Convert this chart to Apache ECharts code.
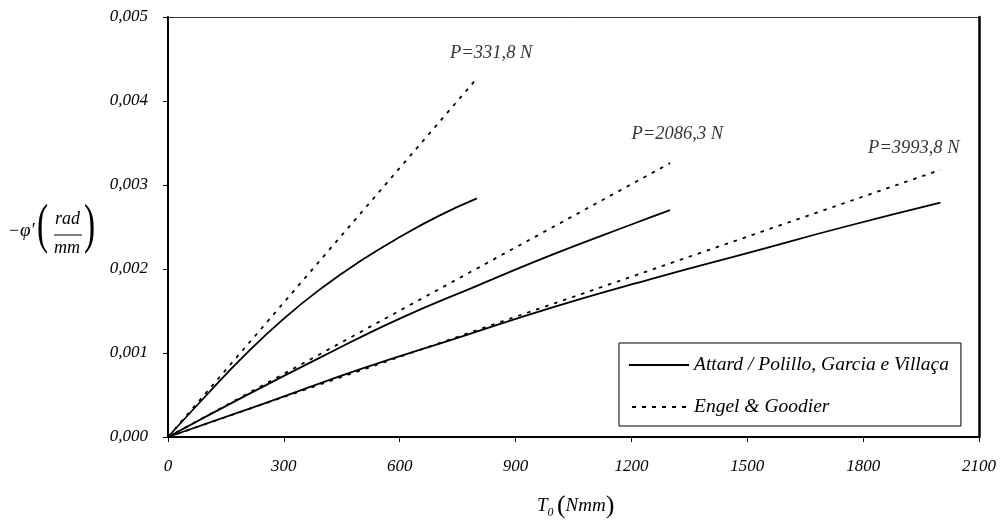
<!DOCTYPE html>
<html>
<head>
<meta charset="utf-8">
<script src="https://cdn.jsdelivr.net/npm/echarts@6/dist/echarts.min.js"></script>
<style>
  html, body { margin: 0; padding: 0; background: #fff; }
  #chart { width: 1001px; height: 526px; }
</style>
</head>
<body>
<div id="chart"></div>
<script>
// valores: T0 (Nmm) e -phi' (rad/mm)
const tAttard1 = [0, 100, 200, 300, 400, 500, 600, 700, 800]
const phiAttard1 = [0, 0.00050, 0.00098, 0.00141, 0.00178, 0.00210, 0.00238, 0.00263, 0.00284]
const tEngel1 = [0, 800]
const phiEngel1 = [0, 0.00427]

const tAttard2 = [0, 200, 400, 600, 800, 1000, 1200, 1300]
const phiAttard2 = [0, 0.00049, 0.00096, 0.00141, 0.00180, 0.00218, 0.00253, 0.00270]
const tEngel2 = [0, 1300]
const phiEngel2 = [0, 0.00326]

const tAttard3 = [0, 250, 500, 750, 1000, 1250, 1500, 1750, 2000]
const phiAttard3 = [0, 0.00040, 0.00081, 0.00118, 0.00155, 0.00188, 0.00219, 0.00250, 0.00279]
const tEngel3 = [0, 2000]
const phiEngel3 = [0, 0.00318]

// rótulos das cargas, posicionados no espaço dos dados
const loadLabels = ['P=331,8 N', 'P=2086,3 N', 'P=3993,8 N']
const loadLabelT = [837, 1319, 1931]
const loadLabelPhi = [0.00457, 0.00360, 0.00344]

const nameAttard = 'Attard / Polillo, Garcia e Villaça'
const nameEngel = 'Engel & Goodier'

const pairs = (xs, ys) => xs.map((x, i) => [x, ys[i]])
const fmtY = (v) => v.toFixed(3).replace('.', ',')
const fmtX = (v) => String(v)

const serif = '"Liberation Serif", "DejaVu Serif", serif'
const italicText = { fontFamily: serif, fontStyle: 'italic', color: '#000', fontSize: 17 }

// ícones da legenda: traço contínuo e tracejado
const iconSolid = 'path://M0,0h60v2h-60z'
const iconDashed = 'path://M0,0h4v2h-4zM10,0h4v2h-4zM20,0h4v2h-4zM30,0h4v2h-4zM40,0h4v2h-4zM50,0h4v2h-4z'

const solid = (data) => ({
    name: nameAttard,
    type: 'line',
    data: data,
    smooth: true,
    showSymbol: false,
    symbol: 'none',
    lineStyle: { color: '#000', width: 1.8, type: 'solid' },
    itemStyle: { color: '#000' }
})
const dotted = (data) => ({
    name: nameEngel,
    type: 'line',
    data: data,
    showSymbol: false,
    symbol: 'none',
    lineStyle: { color: '#000', width: 1.8, type: [3.5, 6] },
    itemStyle: { color: '#000' }
})

const chart = echarts.init(document.getElementById('chart'), null, { renderer: 'canvas' })

const option = {
    animation: false,
    backgroundColor: '#fff',
    grid: { left: 168, top: 17, right: 22, bottom: 89 },
    legend: {
        data: [
            { name: nameAttard, icon: iconSolid },
            { name: nameEngel, icon: iconDashed }
        ],
        orient: 'vertical',
        left: 619,
        top: 343,
        itemWidth: 60,
        itemHeight: 2,
        itemGap: 22,
        padding: [12, 12, 9, 10],
        borderColor: '#000',
        borderWidth: 1,
        backgroundColor: '#fff',
        itemStyle: { color: '#000' },
        textStyle: { ...italicText, fontSize: 19.5, lineHeight: 20 }
    },
    xAxis: [
        {
            type: 'value',
            min: 0,
            max: 2100,
            interval: 300,
            axisLine: { lineStyle: { color: '#000', width: 2 } },
            axisTick: { length: 5, lineStyle: { color: '#000', width: 1 } },
            axisLabel: { ...italicText, margin: 21, formatter: fmtX },
            splitLine: { show: false }
        },
        {
            type: 'value',
            position: 'top',
            min: 0,
            max: 2100,
            axisLine: { show: true, onZero: false, lineStyle: { color: '#333', width: 1 } },
            axisTick: { show: false },
            axisLabel: { show: false },
            splitLine: { show: false }
        }
    ],
    yAxis: [
        {
            type: 'value',
            min: 0,
            max: 0.005,
            interval: 0.001,
            axisLine: { show: true, lineStyle: { color: '#000', width: 2 } },
            axisTick: { show: true, length: 5, lineStyle: { color: '#000', width: 1 } },
            axisLabel: { ...italicText, margin: 20, formatter: fmtY },
            splitLine: { show: false }
        },
        {
            type: 'value',
            position: 'right',
            min: 0,
            max: 0.005,
            axisLine: { show: true, onZero: false, lineStyle: { color: '#000', width: 2.5 } },
            axisTick: { show: false },
            axisLabel: { show: false },
            splitLine: { show: false }
        }
    ],
    series: [
        solid(pairs(tAttard1, phiAttard1)),
        dotted(pairs(tEngel1, phiEngel1)),
        solid(pairs(tAttard2, phiAttard2)),
        dotted(pairs(tEngel2, phiEngel2)),
        solid(pairs(tAttard3, phiAttard3)),
        dotted(pairs(tEngel3, phiEngel3)),
        {
            name: 'cargas',
            type: 'scatter',
            symbolSize: 0,
            silent: true,
            data: loadLabels.map((txt, i) => ({ value: [loadLabelT[i], loadLabelPhi[i]], name: txt })),
            label: {
                show: true,
                position: 'inside',
                formatter: (p) => p.name,
                ...italicText,
                fontSize: 18.5
            }
        }
    ],
    graphic: [
        // título do eixo y: -phi'(rad/mm)
        { type: 'text', left: 9, top: 222, style: { text: '−', font: '18px ' + serif, fill: '#000' } },
        { type: 'text', left: 20, top: 221, style: { text: 'φ′', font: 'italic 19px ' + serif, fill: '#000' } },
        { type: 'text', x: 37, y: 201, scaleX: 0.62, style: { text: '(', font: '54px ' + serif, fill: '#000' } },
        { type: 'text', left: 55, top: 210, style: { text: 'rad', font: 'italic 18px ' + serif, fill: '#000' } },
        { type: 'line', shape: { x1: 54, y1: 235, x2: 82, y2: 235 }, style: { stroke: '#000', lineWidth: 1 } },
        { type: 'text', left: 54, top: 239, style: { text: 'mm', font: 'italic 18px ' + serif, fill: '#000' } },
        { type: 'text', x: 84, y: 201, scaleX: 0.62, style: { text: ')', font: '54px ' + serif, fill: '#000' } },
        // título do eixo x: T0 (Nmm)
        {
            type: 'text',
            left: 537,
            top: 493,
            style: {
                text: '{t|T}{s|0} {p|(}{n|Nmm}{p|)}',
                rich: {
                    t: { font: 'italic 19px ' + serif, fill: '#000' },
                    s: { font: 'italic 12px ' + serif, fill: '#000', verticalAlign: 'bottom', padding: [9, 0, 0, 0] },
                    p: { font: '26px ' + serif, fill: '#000' },
                    n: { font: 'italic 19px ' + serif, fill: '#000' }
                }
            }
        }
    ]
}

chart.setOption(option)
</script>
</body>
</html>
